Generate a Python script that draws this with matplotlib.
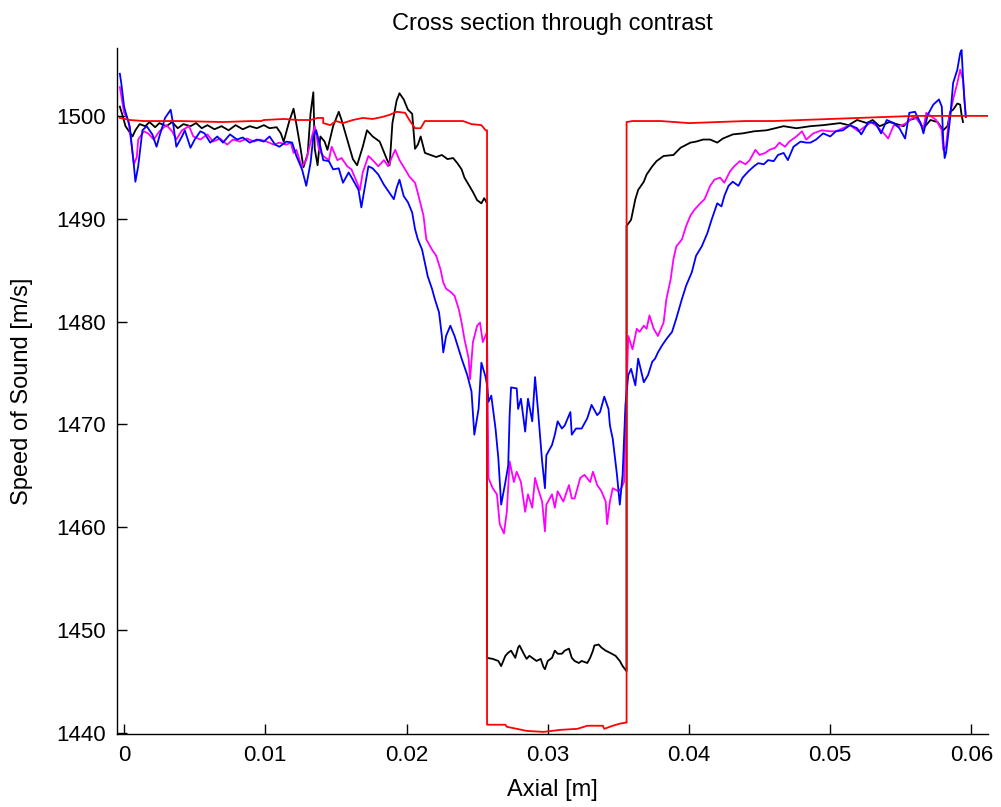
import matplotlib
matplotlib.use('Agg')
import matplotlib.pyplot as plt

plt.rcParams['font.family'] = ['Liberation Sans', 'DejaVu Sans']

# Reference (true) speed of sound profile
x_true = [-0.0003, 0.0004, 0.0014, 0.0040, 0.0070, 0.0090, 0.0097, 0.0099, 0.0113, 0.0123,
          0.0132, 0.0137, 0.0141, 0.0141, 0.0146, 0.0150, 0.0155, 0.0162, 0.0169, 0.0176,
          0.0183, 0.0188, 0.0193, 0.0199, 0.0202, 0.0206, 0.0210, 0.0213, 0.0240, 0.0246,
          0.0253, 0.0256, 0.0257, 0.0257, 0.0258, 0.0270, 0.0271, 0.0278, 0.0285, 0.0297,
          0.0309, 0.0321, 0.0328, 0.0339, 0.0340, 0.0346, 0.0351, 0.0355, 0.03558, 0.03558,
          0.0360, 0.0380, 0.0400, 0.0420, 0.0440, 0.0460, 0.0480, 0.0500, 0.0520, 0.0540,
          0.0560, 0.0613]
c_true = [1499.8, 1499.6, 1499.5, 1499.5, 1499.4, 1499.5, 1499.5, 1499.6, 1499.7, 1499.6,
          1499.6, 1499.8, 1499.8, 1499.3, 1499.1, 1499.5, 1499.3, 1499.6, 1499.8, 1499.7,
          1499.9, 1500.1, 1500.4, 1500.3, 1499.6, 1498.8, 1498.8, 1499.5, 1499.5, 1499.2,
          1499.1, 1498.6, 1498.6, 1440.8, 1440.8, 1440.8, 1440.6, 1440.4, 1440.2, 1440.1,
          1440.3, 1440.4, 1440.7, 1440.7, 1440.4, 1440.7, 1440.9, 1441.0, 1441.0, 1499.4,
          1499.5, 1499.5, 1499.3, 1499.4, 1499.5, 1499.5, 1499.6, 1499.7, 1499.8, 1499.9,
          1500.0, 1500.0]

# Reconstruction 1 (black)
x_k = [-0.0003, -0.0001, 0.0001, 0.0004, 0.0006, 0.0008, 0.0011, 0.0015, 0.0018, 0.0022,
       0.0025, 0.0030, 0.0034, 0.0038, 0.0042, 0.0047, 0.0051, 0.0055, 0.0059, 0.0064,
       0.0069, 0.0074, 0.0079, 0.0084, 0.0089, 0.0094, 0.0099, 0.0103, 0.0108, 0.0111,
       0.0113, 0.0117, 0.0120, 0.0122, 0.0125, 0.0127, 0.0130, 0.0132, 0.0134, 0.0135,
       0.0137, 0.0139, 0.0142, 0.0144, 0.0148, 0.0152, 0.0154, 0.0158, 0.0162, 0.0165,
       0.0169, 0.0172, 0.0176, 0.0181, 0.0186, 0.0188, 0.0190, 0.0193, 0.0195, 0.0198,
       0.0201, 0.0204, 0.0206, 0.0208, 0.0210, 0.0213, 0.0217, 0.0221, 0.0225, 0.0229,
       0.0233, 0.0236, 0.0239, 0.0241, 0.0244, 0.0247, 0.0250, 0.0253, 0.0255, 0.0257,
       0.0257, 0.0261, 0.0265, 0.0267, 0.0270, 0.0272, 0.0274, 0.0277, 0.0279, 0.0280,
       0.0283, 0.0285, 0.0287, 0.0290, 0.0292, 0.0295, 0.0297, 0.0298, 0.0300, 0.0303,
       0.0305, 0.0307, 0.0310, 0.0312, 0.0315, 0.0317, 0.0319, 0.0322, 0.0324, 0.0328,
       0.0330, 0.0332, 0.0333, 0.0336, 0.0338, 0.0341, 0.0344, 0.0348, 0.0351, 0.0353,
       0.03558, 0.03558, 0.0359, 0.0362, 0.0364, 0.0368, 0.0370, 0.0374, 0.0377, 0.0382,
       0.0389, 0.0394, 0.0401, 0.0405, 0.0410, 0.0415, 0.0420, 0.0424, 0.0431, 0.0438,
       0.0446, 0.0455, 0.0467, 0.0476, 0.0486, 0.0495, 0.0507, 0.0513, 0.0519, 0.0526,
       0.0530, 0.0535, 0.0542, 0.0552, 0.0556, 0.0561, 0.0566, 0.0571, 0.0576, 0.0580,
       0.0583, 0.0585, 0.0587, 0.0590, 0.0592, 0.0593, 0.0594]
c_k = [1500.9, 1500.0, 1499.0, 1498.4, 1498.0, 1498.6, 1499.2, 1499.0, 1499.4, 1498.9,
       1499.3, 1499.0, 1499.4, 1498.8, 1499.2, 1499.0, 1499.3, 1498.8, 1499.1, 1498.7,
       1499.0, 1498.6, 1499.1, 1498.7, 1499.0, 1498.8, 1499.1, 1498.8, 1498.9, 1498.3,
       1497.5, 1499.5, 1500.7, 1499.2, 1496.8, 1495.0, 1496.3, 1500.2, 1502.3, 1496.8,
       1495.2, 1498.0, 1497.5, 1496.7, 1499.0, 1500.4, 1499.6, 1497.7, 1495.8, 1495.2,
       1497.0, 1498.6, 1498.0, 1497.5, 1495.8, 1495.2, 1499.3, 1501.5, 1502.2, 1501.6,
       1500.6, 1500.2, 1496.8, 1497.2, 1498.0, 1496.4, 1496.2, 1496.0, 1496.2, 1495.8,
       1495.9, 1495.4, 1494.8, 1494.0, 1493.3, 1492.6, 1491.8, 1491.5, 1492.0, 1491.5,
       1447.3, 1447.2, 1447.0, 1446.5, 1447.5, 1447.8, 1448.0, 1447.3, 1448.3, 1448.5,
       1447.7, 1447.2, 1447.5, 1447.2, 1447.0, 1447.2, 1446.4, 1446.2, 1447.0, 1447.3,
       1448.0, 1447.7, 1447.7, 1448.0, 1448.2, 1447.3, 1447.0, 1446.8, 1447.0, 1446.8,
       1447.3, 1448.0, 1448.5, 1448.6, 1448.3, 1448.0, 1447.8, 1447.5, 1447.0, 1446.5,
       1446.0, 1489.3, 1489.9, 1491.9, 1492.8, 1493.6, 1494.3, 1495.1, 1495.6, 1496.1,
       1496.2, 1496.9, 1497.4, 1497.5, 1497.7, 1497.7, 1497.4, 1497.8, 1498.2, 1498.3,
       1498.5, 1498.6, 1499.0, 1498.8, 1499.0, 1499.1, 1499.3, 1499.1, 1499.6, 1499.3,
       1499.6, 1499.0, 1499.4, 1499.0, 1499.6, 1499.8, 1498.8, 1499.6, 1499.4, 1498.6,
       1499.0, 1500.4, 1500.6, 1501.2, 1501.1, 1500.1, 1499.4]

# Reconstruction 2 (magenta)
x_m = [-0.0003, 0.0000, 0.0003, 0.0005, 0.0007, 0.0009, 0.0010, 0.0014, 0.0017, 0.0021,
       0.0025, 0.0030, 0.0034, 0.0037, 0.0041, 0.0046, 0.0049, 0.0054, 0.0059, 0.0063,
       0.0068, 0.0073, 0.0077, 0.0082, 0.0087, 0.0092, 0.0096, 0.0101, 0.0106, 0.0110,
       0.0115, 0.0118, 0.0120, 0.0122, 0.0125, 0.0126, 0.0129, 0.0133, 0.0135, 0.0138,
       0.0141, 0.0145, 0.0147, 0.0151, 0.0154, 0.0158, 0.0161, 0.0165, 0.0167, 0.0169,
       0.0173, 0.0176, 0.0180, 0.0184, 0.0187, 0.0190, 0.0192, 0.0195, 0.0199, 0.0202,
       0.0206, 0.0208, 0.0212, 0.0214, 0.0218, 0.0221, 0.0224, 0.0226, 0.0228, 0.0232,
       0.0234, 0.0237, 0.0239, 0.0241, 0.0244, 0.0245, 0.0247, 0.0250, 0.0252, 0.0254,
       0.0257, 0.0258, 0.0261, 0.0264, 0.0266, 0.0269, 0.0271, 0.0273, 0.0276, 0.0278,
       0.0281, 0.0284, 0.0286, 0.0289, 0.0291, 0.0293, 0.0296, 0.0298, 0.0299, 0.0303,
       0.0305, 0.0307, 0.0311, 0.0315, 0.0317, 0.0319, 0.0323, 0.0326, 0.0330, 0.0332,
       0.0335, 0.0338, 0.0341, 0.0342, 0.0344, 0.0346, 0.0350, 0.0352, 0.0354, 0.0355,
       0.0357, 0.0360, 0.0363, 0.0365, 0.0368, 0.0370, 0.0372, 0.0375, 0.0378, 0.0382,
       0.0384, 0.0387, 0.0389, 0.0391, 0.0395, 0.0398, 0.0401, 0.0404, 0.0408, 0.0411,
       0.0415, 0.0418, 0.0422, 0.0425, 0.0429, 0.0432, 0.0436, 0.0440, 0.0443, 0.0447,
       0.0450, 0.0454, 0.0457, 0.0461, 0.0464, 0.0468, 0.0471, 0.0476, 0.0480, 0.0483,
       0.0488, 0.0494, 0.0500, 0.0504, 0.0509, 0.0514, 0.0520, 0.0525, 0.0529, 0.0533,
       0.0538, 0.0541, 0.0545, 0.0549, 0.0554, 0.0559, 0.0562, 0.0566, 0.0568, 0.0572,
       0.0575, 0.0579, 0.0580, 0.0582, 0.0584, 0.0587, 0.0590, 0.0592, 0.0594, 0.0595,
       0.0596]
c_m = [1502.8, 1500.3, 1499.6, 1497.5, 1495.3, 1496.0, 1497.7, 1498.5, 1498.3, 1497.7,
       1498.5, 1499.1, 1498.5, 1497.7, 1498.6, 1499.0, 1498.0, 1497.7, 1498.2, 1497.5,
       1497.8, 1497.2, 1497.7, 1497.5, 1497.8, 1497.5, 1497.7, 1497.5, 1497.2, 1497.4,
       1497.2, 1497.4, 1496.4, 1496.7, 1495.4, 1495.1, 1495.7, 1498.0, 1499.0, 1496.7,
       1496.1, 1495.7, 1497.0, 1495.7, 1495.9, 1495.1, 1494.8, 1493.5, 1492.8, 1494.5,
       1496.1, 1495.7, 1495.1, 1495.7, 1495.1, 1496.1, 1496.7, 1495.7, 1494.8, 1494.1,
       1493.5, 1492.5, 1490.3, 1488.0, 1487.0, 1486.4, 1485.1, 1483.8, 1483.2, 1482.8,
       1482.5, 1481.2, 1479.9, 1478.3, 1476.4, 1474.4, 1478.0, 1479.6, 1479.9, 1478.0,
       1479.0, 1464.8, 1463.8, 1463.2, 1460.3, 1459.4, 1461.5, 1466.4, 1464.4, 1465.4,
       1464.4, 1461.5, 1463.2, 1461.9, 1464.8, 1463.8, 1462.5, 1459.6, 1462.2, 1463.2,
       1461.9, 1463.5, 1462.5, 1464.1, 1462.8, 1462.8, 1464.8, 1465.1, 1464.4, 1465.4,
       1464.1, 1463.5, 1462.5, 1460.3, 1462.5, 1463.8, 1463.5, 1463.8, 1464.4, 1470.0,
       1478.6, 1477.3, 1479.3, 1479.0, 1479.6, 1479.3, 1480.6, 1479.3, 1478.6, 1479.9,
       1482.2, 1484.1, 1486.1, 1487.3, 1488.0, 1489.3, 1490.3, 1490.9, 1491.5, 1491.9,
       1493.2, 1493.8, 1494.0, 1493.5, 1494.6, 1495.1, 1495.6, 1495.3, 1495.7, 1496.7,
       1496.2, 1496.4, 1496.7, 1496.9, 1497.4, 1497.0, 1497.5, 1498.0, 1498.5, 1497.7,
       1498.3, 1498.6, 1498.5, 1498.5, 1498.8, 1499.1, 1498.5, 1499.0, 1499.4, 1499.0,
       1498.3, 1497.8, 1499.1, 1499.0, 1499.3, 1499.9, 1499.6, 1498.8, 1500.3, 1499.9,
       1499.6, 1498.6, 1496.7, 1497.0, 1499.6, 1501.6, 1503.2, 1504.5, 1503.5, 1501.6,
       1499.9]

# Reconstruction 3 (blue)
x_b = [-0.0003, -0.0002, 0.0000, 0.0002, 0.0004, 0.0007, 0.0008, 0.0010, 0.0013, 0.0016,
       0.0020, 0.0023, 0.0025, 0.0029, 0.0033, 0.0035, 0.0037, 0.0041, 0.0043, 0.0047,
       0.0050, 0.0054, 0.0057, 0.0061, 0.0066, 0.0070, 0.0075, 0.0080, 0.0084, 0.0089,
       0.0094, 0.0099, 0.0103, 0.0107, 0.0110, 0.0115, 0.0119, 0.0122, 0.0126, 0.0129,
       0.0132, 0.0134, 0.0136, 0.0139, 0.0141, 0.0145, 0.0148, 0.0152, 0.0155, 0.0159,
       0.0162, 0.0166, 0.0168, 0.0171, 0.0173, 0.0176, 0.0180, 0.0184, 0.0187, 0.0191,
       0.0193, 0.0195, 0.0198, 0.0201, 0.0204, 0.0206, 0.0208, 0.0211, 0.0213, 0.0215,
       0.0218, 0.0220, 0.0223, 0.0225, 0.0226, 0.0228, 0.0231, 0.0234, 0.0237, 0.0239,
       0.0243, 0.0246, 0.0248, 0.0251, 0.0253, 0.0256, 0.0257, 0.0258, 0.0260, 0.0263,
       0.0265, 0.0267, 0.0270, 0.0272, 0.0273, 0.0274, 0.0278, 0.0279, 0.0281, 0.0284,
       0.0286, 0.0289, 0.0291, 0.0293, 0.0296, 0.0298, 0.0299, 0.0303, 0.0305, 0.0307,
       0.0310, 0.0312, 0.0316, 0.0317, 0.0320, 0.0324, 0.0328, 0.0331, 0.0335, 0.0337,
       0.0340, 0.0343, 0.0344, 0.0346, 0.0349, 0.0351, 0.0353, 0.0355, 0.0357, 0.0359,
       0.0362, 0.0364, 0.0368, 0.0371, 0.0374, 0.0376, 0.0378, 0.0381, 0.0384, 0.0388,
       0.0391, 0.0395, 0.0398, 0.0402, 0.0405, 0.0409, 0.0413, 0.0416, 0.0420, 0.0423,
       0.0425, 0.0428, 0.0431, 0.0435, 0.0438, 0.0442, 0.0446, 0.0449, 0.0453, 0.0456,
       0.0460, 0.0463, 0.0467, 0.0470, 0.0474, 0.0479, 0.0483, 0.0486, 0.0490, 0.0495,
       0.0500, 0.0504, 0.0509, 0.0514, 0.0519, 0.0522, 0.0527, 0.0532, 0.0536, 0.0540,
       0.0545, 0.0549, 0.0553, 0.0556, 0.0560, 0.0564, 0.0566, 0.0569, 0.0573, 0.0577,
       0.0579, 0.0580, 0.0581, 0.0582, 0.0585, 0.0587, 0.0590, 0.0592, 0.0593, 0.0594,
       0.0595, 0.0596]
c_b = [1504.1, 1503.2, 1500.9, 1499.9, 1499.0, 1495.1, 1493.6, 1495.1, 1498.6, 1499.0,
       1498.2, 1497.0, 1498.0, 1499.8, 1500.6, 1499.0, 1497.0, 1498.0, 1498.6, 1496.9,
       1497.7, 1498.5, 1498.3, 1497.4, 1498.0, 1497.4, 1498.2, 1497.7, 1497.9, 1497.4,
       1497.7, 1497.5, 1498.0, 1497.2, 1497.0, 1497.5, 1497.4, 1496.1, 1494.8, 1493.2,
       1495.4, 1498.0, 1498.6, 1497.0, 1495.7, 1495.6, 1494.8, 1494.9, 1493.5, 1494.5,
       1493.8, 1492.8, 1491.1, 1493.5, 1495.1, 1494.9, 1494.3, 1493.3, 1492.7, 1491.9,
       1493.0, 1493.8, 1492.2, 1491.6, 1490.6, 1489.0, 1488.0, 1487.0, 1485.7, 1484.4,
       1483.2, 1482.2, 1480.9, 1478.6, 1477.0, 1478.6, 1479.6, 1478.6, 1477.3, 1476.4,
       1474.8, 1473.2, 1469.0, 1471.5, 1476.0, 1474.6, 1473.8, 1472.2, 1472.8, 1469.6,
       1466.7, 1462.2, 1464.4, 1466.0, 1470.9, 1473.6, 1473.5, 1471.5, 1472.5, 1469.3,
       1472.5, 1470.3, 1474.6, 1471.5, 1466.4, 1463.8, 1467.0, 1468.0, 1469.0, 1470.3,
       1469.6, 1469.9, 1471.2, 1469.0, 1469.6, 1469.6, 1470.6, 1471.9, 1470.9, 1471.2,
       1472.7, 1471.5, 1469.9, 1468.6, 1465.1, 1462.2, 1465.1, 1471.9, 1474.8, 1475.4,
       1473.8, 1476.4, 1474.1, 1474.8, 1476.1, 1476.4, 1477.0, 1477.7, 1478.3, 1479.0,
       1480.3, 1482.2, 1483.5, 1484.8, 1486.4, 1487.3, 1488.6, 1489.9, 1491.5, 1491.2,
       1492.2, 1493.2, 1493.6, 1493.2, 1494.0, 1494.6, 1495.1, 1495.4, 1495.3, 1495.7,
       1495.6, 1496.2, 1496.4, 1495.7, 1497.0, 1497.5, 1497.4, 1497.4, 1497.7, 1498.3,
       1498.0, 1498.5, 1498.6, 1499.1, 1498.8, 1498.2, 1499.4, 1499.3, 1498.3, 1499.6,
       1499.3, 1498.8, 1497.8, 1500.3, 1500.4, 1499.3, 1498.3, 1500.1, 1501.1, 1501.6,
       1500.9, 1497.7, 1495.9, 1496.4, 1499.9, 1503.2, 1504.5, 1506.1, 1506.4, 1503.8,
       1501.6, 1499.9]

xtick_vals = [0, 0.01, 0.02, 0.03, 0.04, 0.05, 0.06]
xtick_labels = ['0', '0.01', '0.02', '0.03', '0.04', '0.05', '0.06']
ytick_vals = [1440, 1450, 1460, 1470, 1480, 1490, 1500]

fig = plt.figure(figsize=(10.01, 8.07), dpi=100)
ax = fig.add_axes([0.1169, 0.0905, 0.8701, 0.85])

ax.plot(x_k, c_k, color='black', lw=1.3)
ax.plot(x_m, c_m, color='magenta', lw=1.3)
ax.plot(x_b, c_b, color='blue', lw=1.3)
ax.plot(x_true, c_true, color='red', lw=1.3)

ax.set_xlim(-0.0005, 0.06117)
ax.set_ylim(1439.9, 1506.6)
ax.set_xticks(xtick_vals)
ax.set_xticklabels(xtick_labels)
ax.set_yticks(ytick_vals)

for side in ['top', 'right']:
    ax.spines[side].set_visible(False)
for side in ['left', 'bottom']:
    ax.spines[side].set_linewidth(1.0)

ax.tick_params(direction='in', length=7.5, width=1.0, labelsize=16, pad=8)

ax.set_title('Cross section through contrast', fontsize=17, pad=13)
ax.set_xlabel('Axial [m]', fontsize=17)
ax.set_ylabel('Speed of Sound [m/s]', fontsize=17)
ax.xaxis.set_label_coords(0.5, -0.082)
ax.yaxis.set_label_coords(-0.109, 0.5)
ax.xaxis.label.set_va('center')
ax.yaxis.label.set_va('center')

fig.savefig('out.png', dpi=100)
